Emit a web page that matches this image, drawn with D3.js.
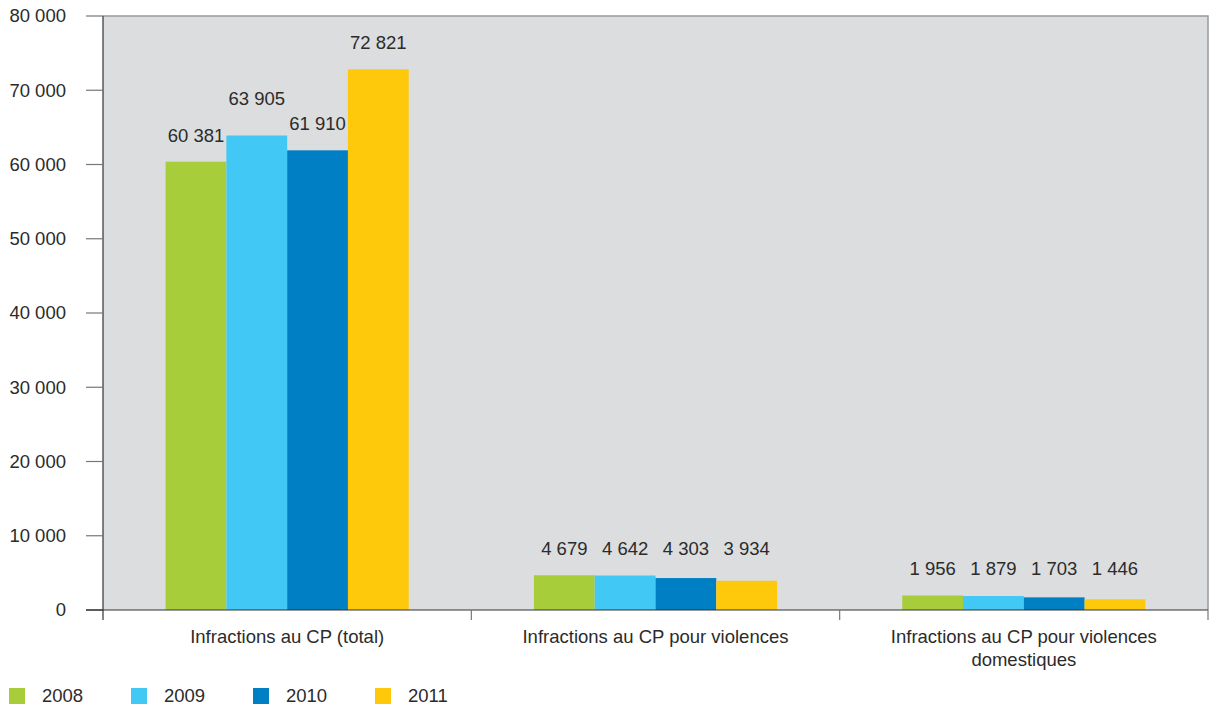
<!DOCTYPE html>
<html>
<head>
<meta charset="utf-8">
<script src="https://cdn.jsdelivr.net/npm/d3@7"></script>
<style>
  html, body { margin: 0; padding: 0; background: #fff; }
  svg { display: block; font-family: "Liberation Sans", Arial, sans-serif; }
</style>
</head>
<body>
<svg id="chart" width="1218" height="708"></svg>
<script>
// Offences under the penal code, by year
const categories = [
  ["Infractions au CP (total)"],
  ["Infractions au CP pour violences"],
  ["Infractions au CP pour violences", "domestiques"]
];
const years = ["2008", "2009", "2010", "2011"];
const values2008 = [60381, 4679, 1956];
const values2009 = [63905, 4642, 1879];
const values2010 = [61910, 4303, 1703];
const values2011 = [72821, 3934, 1446];
const yTicks = [0, 10000, 20000, 30000, 40000, 50000, 60000, 70000, 80000];
const colors = ["#a8cd3a", "#41c8f4", "#007fc5", "#ffc90b"];

const series = [values2008, values2009, values2010, values2011];

const svg = d3.select("#chart");
const plot = { left: 103, right: 1208, top: 16, bottom: 610 };
const textColor = "#2b2b2b";
const fontSize = 18.5;

const fmt = v => d3.format(",")(v).replace(/,/g, " ");

const y = d3.scaleLinear().domain([0, 80000]).range([plot.bottom, plot.top]);
const x0 = d3.scaleBand().domain(d3.range(categories.length))
  .range([plot.left, plot.right]).paddingInner(0).paddingOuter(0);
const x1 = d3.scaleBand().domain(d3.range(years.length))
  .range([0, x0.bandwidth()]).paddingInner(0).paddingOuter(1.03);

// Baselines for value labels: near-equal bars share one height,
// close neighbours are pushed apart so the labels stay readable.
function labelBaselines(tops) {
  const gap = 20;
  const spread = d3.max(tops) - d3.min(tops);
  if (spread < 8) return tops.map(() => d3.min(tops) - gap);
  const base = tops.map(t => t - gap);
  for (let i = 0; i < base.length - 1; i++) {
    const d = Math.abs(base[i] - base[i + 1]);
    if (d < 20) {
      const hi = base[i] < base[i + 1] ? i : i + 1;
      const lo = hi === i ? i + 1 : i;
      base[hi] = base[lo] - 25;
    }
  }
  return base;
}

// plot background
svg.append("rect")
  .attr("x", plot.left).attr("y", plot.top)
  .attr("width", plot.right - plot.left).attr("height", plot.bottom - plot.top)
  .attr("fill", "#dcdddf");
svg.append("path")
  .attr("d", `M${plot.left},${plot.top}H${plot.right}V${plot.bottom}`)
  .attr("fill", "none").attr("stroke", "#9a9a9a").attr("stroke-width", 1.5);

// bars and value labels
const groups = svg.append("g").selectAll("g")
  .data(categories).join("g")
  .attr("transform", (d, i) => `translate(${x0(i)},0)`);

groups.each(function(cat, ci) {
  const g = d3.select(this);
  const vals = series.map(s => s[ci]);
  const baselines = labelBaselines(vals.map(v => y(v)));
  vals.forEach((v, si) => {
    g.append("rect")
      .attr("x", x1(si)).attr("width", x1.bandwidth())
      .attr("y", y(v)).attr("height", y(0) - y(v))
      .attr("fill", colors[si]);
    g.append("text")
      .attr("x", x1(si) + x1.bandwidth() / 2)
      .attr("y", baselines[si])
      .attr("text-anchor", "middle")
      .attr("font-size", fontSize).attr("fill", textColor)
      .text(fmt(v));
  });
});

// y axis
const yAxis = svg.append("g");
yAxis.append("line")
  .attr("x1", plot.left).attr("x2", plot.left)
  .attr("y1", plot.top).attr("y2", plot.bottom + 10)
  .attr("stroke", "#333").attr("stroke-width", 1.2);
yAxis.selectAll(".tick").data(yTicks).join("g")
  .each(function(t) {
    const g = d3.select(this);
    g.append("line")
      .attr("x1", 86).attr("x2", plot.left)
      .attr("y1", y(t)).attr("y2", y(t))
      .attr("stroke", t === 0 ? "#333" : "#777").attr("stroke-width", 1.2);
    g.append("text")
      .attr("x", 66).attr("y", y(t)).attr("dy", "0.35em")
      .attr("text-anchor", "end")
      .attr("font-size", fontSize).attr("fill", textColor)
      .text(fmt(t));
  });

// x axis
svg.append("line")
  .attr("x1", 86).attr("x2", plot.right)
  .attr("y1", plot.bottom).attr("y2", plot.bottom)
  .attr("stroke", "#333").attr("stroke-width", 1.2);
[1, 2, 3].forEach(i => {
  const xx = x0(0) + x0.bandwidth() * i;
  svg.append("line")
    .attr("x1", xx).attr("x2", xx)
    .attr("y1", plot.bottom).attr("y2", plot.bottom + 10)
    .attr("stroke", "#777").attr("stroke-width", 1.2);
});
categories.forEach((lines, i) => {
  const cx = x0(i) + x0.bandwidth() / 2;
  const t = svg.append("text")
    .attr("x", cx).attr("y", 643)
    .attr("text-anchor", "middle")
    .attr("font-size", fontSize).attr("fill", textColor);
  lines.forEach((ln, j) => {
    t.append("tspan")
      .attr("x", cx)
      .attr("dy", j === 0 ? 0 : 23)
      .text(ln);
  });
});

// legend
const legend = svg.append("g");
years.forEach((yr, i) => {
  const lx = 9 + i * 122;
  legend.append("rect")
    .attr("x", lx).attr("y", 688).attr("width", 16).attr("height", 16)
    .attr("fill", colors[i]);
  legend.append("text")
    .attr("x", lx + 33).attr("y", 696).attr("dy", "0.35em")
    .attr("font-size", fontSize).attr("fill", textColor)
    .text(yr);
});
</script>
</body>
</html>
